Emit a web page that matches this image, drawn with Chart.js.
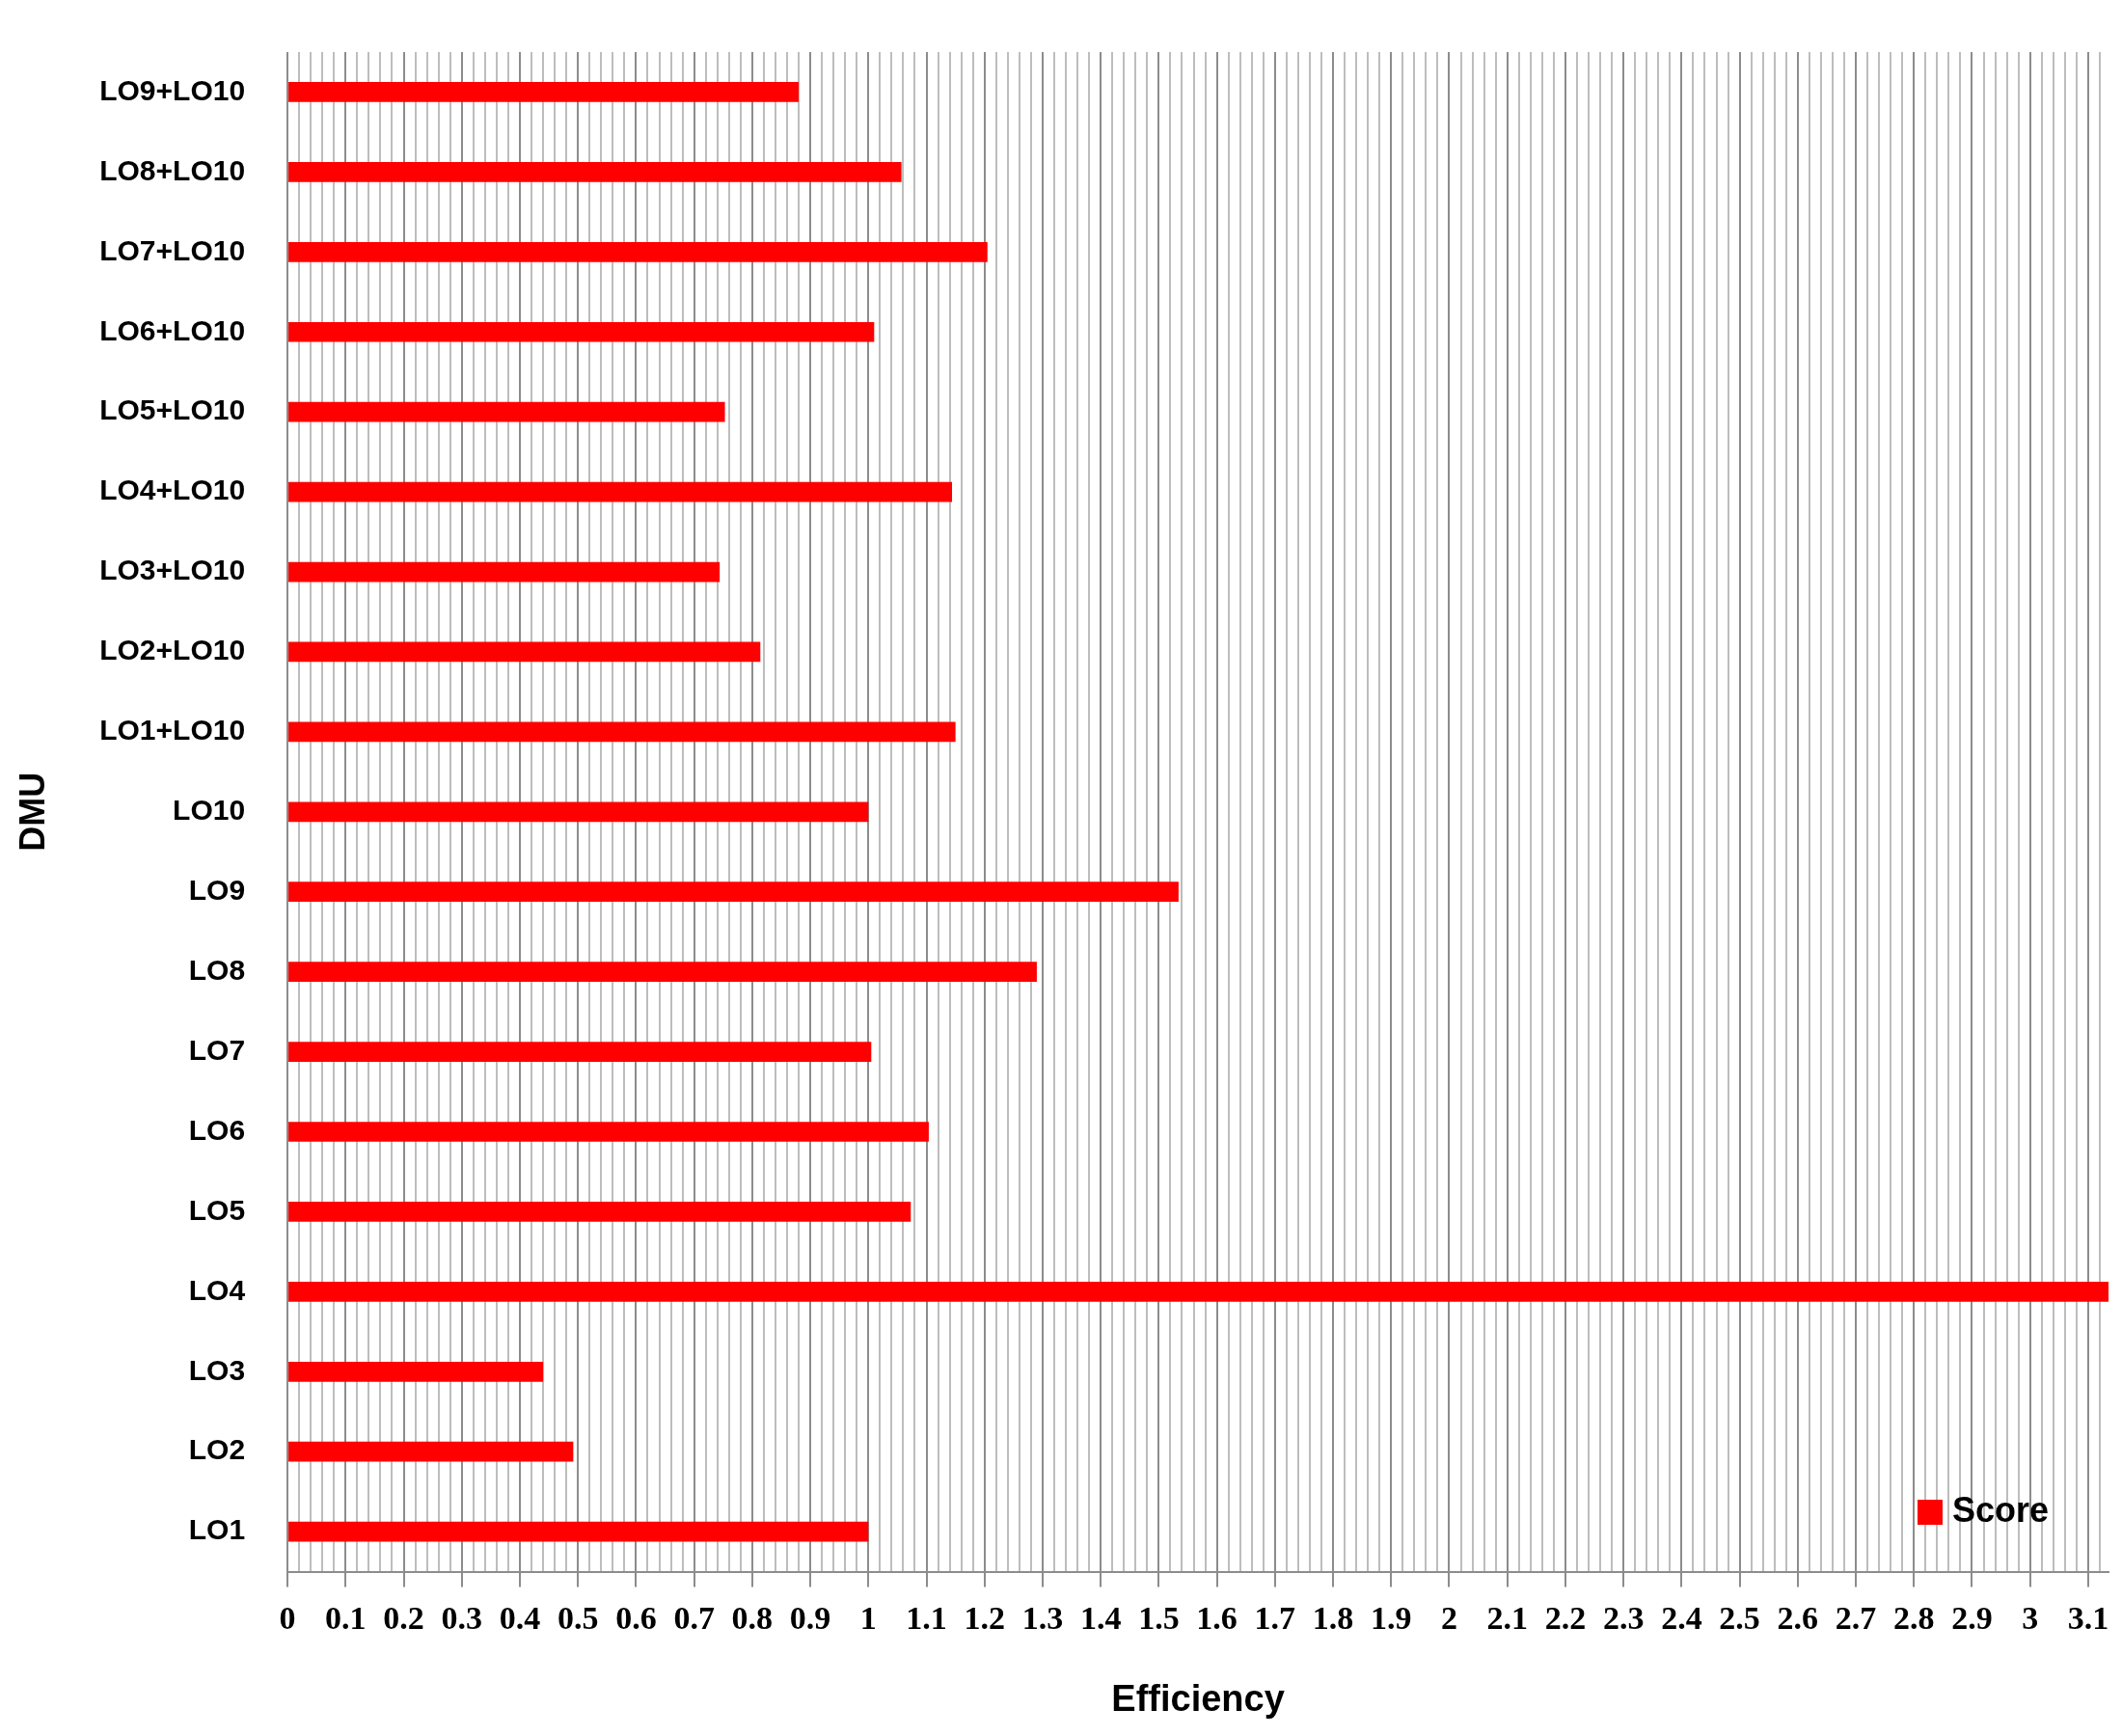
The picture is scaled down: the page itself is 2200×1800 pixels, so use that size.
<!DOCTYPE html>
<html><head><meta charset="utf-8">
<script src="https://cdn.jsdelivr.net/npm/chart.js@4"></script>
<style>html,body{margin:0;background:#fff}#w{width:2200px;height:1800px}</style>
</head><body><div id="w"><canvas id="c"></canvas></div>
<script>
const categories = ["LO1","LO2","LO3","LO4","LO5","LO6","LO7","LO8","LO9","LO10","LO1+LO10","LO2+LO10","LO3+LO10","LO4+LO10","LO5+LO10","LO6+LO10","LO7+LO10","LO8+LO10","LO9+LO10"];
const scores = [1.0,0.492,0.44,3.14,1.073,1.104,1.005,1.29,1.534,1.0,1.15,0.814,0.744,1.144,0.753,1.01,1.205,1.057,0.88];
const seriesName = "Score";
const xMax = 3.135;
const isMajor = v => Math.abs(v*10 - Math.round(v*10)) < 1e-6;

const legendPlugin = {
  id:'inLegend',
  afterDraw(chart){
    const {ctx, chartArea:a} = chart;
    ctx.save();
    ctx.fillStyle = '#ff0000';
    ctx.fillRect(a.right-198, 1555, 26, 26);
    ctx.fillStyle = '#000';
    ctx.font = '900 36px "Liberation Sans", Arial';
    ctx.textBaseline = 'middle';
    ctx.fillText(seriesName, a.right-162, 1568);
    ctx.restore();
  }
};

new Chart(document.getElementById('c'), {
  type:'bar',
  data:{labels:categories, datasets:[{label:seriesName, data:scores, backgroundColor:'#ff0000', barPercentage:0.25, categoryPercentage:1}]},
  plugins:[legendPlugin],
  options:{
    indexAxis:'y', responsive:true, maintainAspectRatio:false, animation:false,
    layout:{padding:{top:20,right:14,left:10,bottom:10}},
    plugins:{legend:{display:false}, tooltip:{enabled:false}},
    scales:{
      x:{min:0, max:xMax,
        afterBuildTicks(s){ const t=[]; for(let i=0;i<=156;i++){t.push({value:i*0.02});} s.ticks=t; },
        ticks:{autoSkip:false, maxRotation:0, color:'#000', padding:14,
          font:{family:'"Liberation Serif", "DejaVu Serif", serif', weight:'bold', size:34},
          callback:(v)=>{ if(!isMajor(v)) return ''; const r=Math.round(v*10)/10; return String(r); }},
        grid:{color:c=>isMajor(c.tick.value)?'#8c8c8c':'#bdbdbd', lineWidth:2,
          tickLength:16, tickColor:c=>isMajor(c.tick.value)?'#8c8c8c':'rgba(0,0,0,0)'},
        border:{color:'#8c8c8c', width:2},
        title:{display:true, text:'Efficiency', color:'#000', padding:{top:26},
          font:{family:'"Liberation Sans", Arial', weight:'900', size:38}}
      },
      y:{reverse:true,
        ticks:{color:'#000', padding:36, font:{family:'"Liberation Sans", Arial', weight:'900', size:30}},
        grid:{display:false}, border:{display:false},
        title:{display:true, text:'DMU', color:'#000', padding:{bottom:10},
          font:{family:'"Liberation Sans", Arial', weight:'900', size:36}}
      }
    }
  }
});
</script></body></html>
